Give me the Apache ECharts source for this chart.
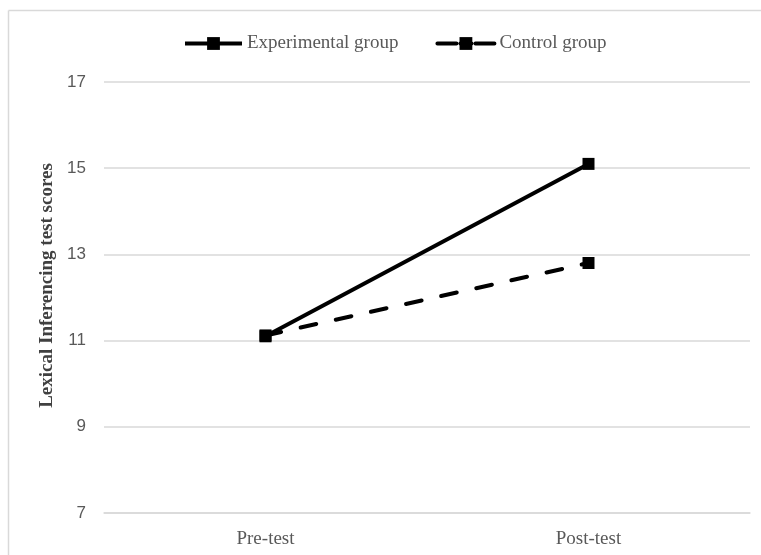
<!DOCTYPE html>
<html><head><meta charset="utf-8">
<script src="https://cdn.jsdelivr.net/npm/echarts@6/dist/echarts.min.js"></script>
<style>html,body{margin:0;padding:0;background:#fff}#c{width:761px;height:555px}</style>
</head><body><div id="c"></div>
<script>
const categories = ["Pre-test", "Post-test"];
const experimental = [11.1, 15.1];
const control = [11.12, 12.8];
const yTicks = [7, 9, 11, 13, 15, 17];

const chart = echarts.init(document.getElementById('c'), null, {renderer: 'canvas'});
chart.setOption({
  animation: false,
  backgroundColor: '#fff',
  graphic: [
    {type: 'line', shape: {x1: 8.5, y1: 10.5, x2: 761, y2: 10.5}, style: {stroke: '#d9d9d9', lineWidth: 1.5}},
    {type: 'line', shape: {x1: 8.5, y1: 10.5, x2: 8.5, y2: 555}, style: {stroke: '#d9d9d9', lineWidth: 1.5}}
  ],
  legend: {
    top: 29,
    left: 178,
    itemWidth: 57,
    itemHeight: 16,
    itemGap: 37,
    textStyle: {fontFamily: 'Liberation Serif', fontSize: 19, color: '#595959'},
    data: [
      {name: 'Experimental group', lineStyle: {width: 4}},
      {name: 'Control group', lineStyle: {width: 4, type: [19, 4, 11, 4]}}
    ]
  },
  grid: {left: 104, right: 11, top: 82, bottom: 42, containLabel: false},
  xAxis: {
    type: 'category',
    data: categories,
    boundaryGap: true,
    axisLine: {show: true, lineStyle: {color: '#d9d9d9', width: 1.5}},
    axisTick: {show: false},
    axisLabel: {fontFamily: 'Liberation Serif', fontSize: 19, color: '#595959', margin: 17}
  },
  yAxis: {
    type: 'value',
    min: yTicks[0],
    max: yTicks[yTicks.length - 1],
    interval: 2,
    name: 'Lexical Inferencing test scores',
    nameLocation: 'middle',
    nameGap: 46,
    nameTextStyle: {fontFamily: 'Liberation Serif', fontSize: 19, fontWeight: 'bold', color: '#404040', padding: [0, 0, 0, 24]},
    axisLine: {show: false},
    axisTick: {show: false},
    axisLabel: {fontFamily: 'Liberation Sans', fontSize: 17, color: '#595959', margin: 18},
    splitLine: {lineStyle: {color: '#d9d9d9', width: 1.5}}
  },
  series: [
    {
      name: 'Experimental group',
      type: 'line',
      data: experimental,
      symbol: 'rect',
      symbolSize: 12,
      itemStyle: {color: '#000'},
      lineStyle: {color: '#000', width: 4, type: 'solid'},
      z: 3
    },
    {
      name: 'Control group',
      type: 'line',
      data: control,
      symbol: 'rect',
      symbolSize: 12,
      itemStyle: {color: '#000'},
      lineStyle: {color: '#000', width: 4, type: [16, 20], cap: 'round'},
      z: 2
    }
  ]
});
</script></body></html>
